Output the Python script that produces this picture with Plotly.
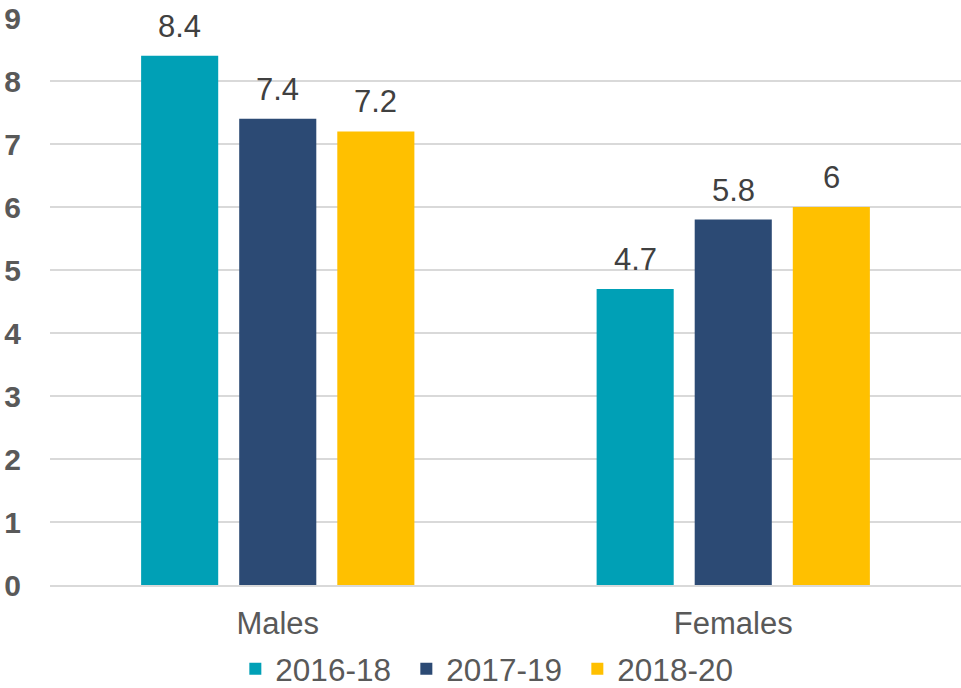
import plotly.graph_objects as go

categories = ["Males", "Females"]
series_names = ["2016-18", "2017-19", "2018-20"]
values_2016_18 = [8.4, 4.7]
values_2017_19 = [7.4, 5.8]
values_2018_20 = [7.2, 6]
colors = ["#00A0B6", "#2C4A74", "#FFC000"]
y_ticks = [0, 1, 2, 3, 4, 5, 6, 7, 8, 9]

series_values = [values_2016_18, values_2017_19, values_2018_20]
FONT = "Liberation Sans, Arial"
BARGAP = 0.354
GROUPGAP = 0.214

fig = go.Figure()
for name, vals, col in zip(series_names, series_values, colors):
    fig.add_trace(go.Bar(
        x=categories, y=vals, name=name,
        marker=dict(color=col, line=dict(width=0)),
        cliponaxis=False,
    ))

# data labels positioned through the axes (category index + group offset)
n = len(series_values)
slot = (1 - BARGAP) / n
for i, vals in enumerate(series_values):
    for ci, v in enumerate(vals):
        fig.add_annotation(
            x=ci + (i - (n - 1) / 2) * slot, xref="x",
            y=v, yref="y", yanchor="bottom", yshift=10,
            text=f"{v:g}", showarrow=False,
            font=dict(family=FONT, size=31, color="#404040"),
        )

fig.update_layout(
    width=961, height=688,
    margin=dict(l=50, r=0, t=18, b=103),
    paper_bgcolor="white", plot_bgcolor="white",
    barmode="group", bargap=BARGAP, bargroupgap=GROUPGAP,
    font=dict(family=FONT, color="#595959"),
    showlegend=True,
    legend=dict(
        orientation="h", x=0.485, xanchor="center",
        yref="container", y=0.028, yanchor="middle",
        font=dict(size=31.5, color="#595959"),
        itemwidth=30, traceorder="normal",
        entrywidth=126, entrywidthmode="pixels",
    ),
    xaxis=dict(
        automargin=False,
        showgrid=False, showline=True, linecolor="#D9D9D9", linewidth=2,
        ticks="outside", ticklen=10, tickcolor="rgba(0,0,0,0)",
        tickfont=dict(size=31, color="#595959"),
    ),
    yaxis=dict(
        automargin=False,
        range=[0, 9], tickvals=y_ticks,
        showgrid=True, gridcolor="#D9D9D9", gridwidth=1.5,
        zeroline=False, showline=False,
        ticks="outside", ticklen=22, tickcolor="rgba(0,0,0,0)",
        tickfont=dict(size=30, color="#595959", family=FONT, weight="bold"),
    ),
)

fig.write_html(
    "out.html",
    config={"displayModeBar": False},
    post_script="document.body.style.margin='0px';document.body.style.overflow='hidden';",
)
